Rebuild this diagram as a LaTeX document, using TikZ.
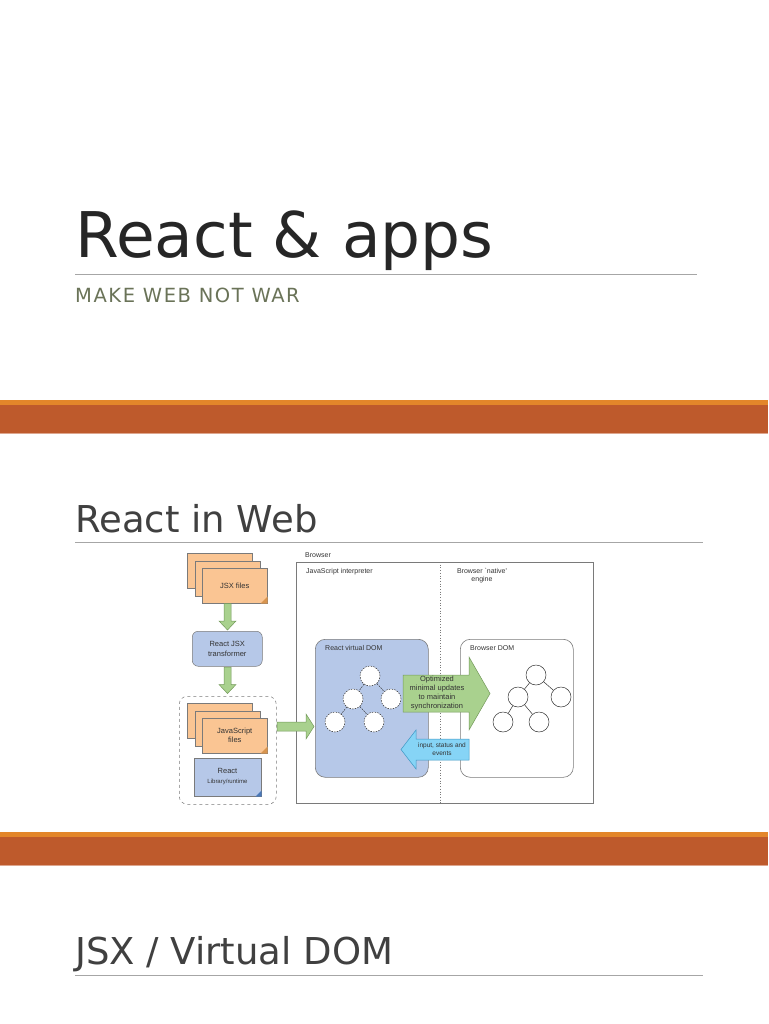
\documentclass[tikz,border=0pt]{standalone}
\usepackage{fontspec}
\setmainfont{DejaVu Sans}
\newfontfamily\dfont{Liberation Sans}
\definecolor{titlegray}{HTML}{262626}
\definecolor{headgray}{HTML}{404040}
\definecolor{subgreen}{HTML}{6A7358}
\definecolor{rulegray}{HTML}{A6A6A6}
\definecolor{bandmain}{HTML}{BE5A2C}
\definecolor{bandtop}{HTML}{E3862A}
\definecolor{bandlow}{HTML}{DDA68E}
\definecolor{fileorange}{HTML}{FAC593}
\definecolor{filedark}{HTML}{D8954F}
\definecolor{boxblue}{HTML}{B6C8E8}
\definecolor{boxbluedark}{HTML}{4A78B8}
\definecolor{arrgreen}{HTML}{A9D18E}
\definecolor{arrgreendark}{HTML}{73995A}
\definecolor{arrblue}{HTML}{86D4F6}
\definecolor{arrbluedark}{HTML}{3E97C4}
\definecolor{linegray}{HTML}{7A7A7A}
\definecolor{dtext}{HTML}{333333}
\begin{document}
\begin{tikzpicture}[x=1pt,y=-1pt,
  dlabel/.style={font=\dfont\fontsize{7}{8.5}\selectfont, text=dtext, inner sep=0pt},
  sheet/.style={draw=linegray, line width=0.5pt, fill=fileorange, minimum width=65pt, minimum height=35pt, anchor=north west, inner sep=0pt, font=\dfont\fontsize{7.5}{9}\selectfont, text=dtext, align=center},
  bluebox/.style={draw=linegray, line width=0.5pt, fill=boxblue, anchor=north west, inner sep=0pt, font=\dfont\fontsize{7.5}{9.5}\selectfont, text=dtext, align=center},
  vnode/.style={circle, draw=dtext, dash pattern=on 1.5pt off 1.2pt, line width=0.5pt, fill=white, minimum size=20pt, inner sep=0pt},
  bnode/.style={circle, draw=dtext, line width=0.5pt, fill=white, minimum size=20pt, inner sep=0pt},
  vedge/.style={draw=dtext, dash pattern=on 1.5pt off 1.2pt, line width=0.5pt},
  bedge/.style={draw=dtext, line width=0.5pt},
  garrow/.style={fill=arrgreen, draw=arrgreendark, line width=0.5pt, line join=miter},
  barrow/.style={fill=arrblue, draw=arrbluedark, line width=0.5pt, line join=miter},
  titlerule/.style={draw=rulegray, line width=1pt}
]
\useasboundingbox (0,0) rectangle (768,1024);
\fill[white] (0,0) rectangle (768,1024);

% ---------- title ----------
\node[anchor=base west, inner sep=0pt, text=titlegray, font=\fontsize{63}{63}\selectfont] (title) at (75,257) {React \& apps};
\draw[titlerule] (75,274) -- (697,274);
\node[anchor=base west, inner sep=0pt, text=subgreen, font=\fontsize{19.5}{20}\selectfont\addfontfeatures{LetterSpace=8}] (subtitle) at (75,302) {MAKE WEB NOT WAR};

% ---------- band 1 ----------
\fill[bandtop] (0,400) rectangle (768,405);
\fill[bandmain] (0,405) rectangle (768,433);
\fill[bandlow] (0,432.5) rectangle (768,433.5);

% ---------- section 2 ----------
\node[anchor=base west, inner sep=0pt, text=headgray, font=\fontsize{37}{37}\selectfont] (sec2) at (75,532) {React in Web};
\draw[titlerule] (75,542) -- (703,542);

% ---------- diagram: left column ----------
\node[sheet] (jsxa) at (187,553) {};
\node[sheet] (jsxb) at (194.5,560.5) {};
\node[sheet] (jsxc) at (202,568) {JSX files};
\fill[filedark] (jsxc.south east) -- ++(0,-7) -- ++(-7,7) -- cycle;

\node[bluebox, rounded corners=6pt, minimum width=70pt, minimum height=35pt] (trans) at (192,631) {React JSX\\transformer};

% small down arrows
\path[garrow] (224,603.5) -- (231,603.5) -- (231,621) -- (236,621) -- (227.5,630) -- (219,621) -- (224,621) -- cycle;
\path[garrow] (224,667) -- (231,667) -- (231,684.5) -- (236,684.5) -- (227.5,693.5) -- (219,684.5) -- (224,684.5) -- cycle;

\node[draw=linegray, dashed, line width=0.5pt, rounded corners=8pt, minimum width=97pt, minimum height=108pt, anchor=north west, inner sep=0pt] (pkg) at (179,696) {};
\node[sheet] (jsa) at (187,703) {};
\node[sheet] (jsb) at (194.5,710.5) {};
\node[sheet] (jsc) at (202,718) {JavaScript\\files};
\fill[filedark] (jsc.south east) -- ++(0,-7) -- ++(-7,7) -- cycle;

\node[bluebox, minimum width=67pt, minimum height=38pt] (lib) at (194,758) {};
\node[dlabel, font=\dfont\fontsize{7.5}{8}\selectfont] (libt1) at (227.5,770.5) {React};
\node[dlabel, font=\dfont\fontsize{6}{7}\selectfont] (libt2) at (227.5,782) {Library/runtime};
\fill[boxbluedark] (lib.south east) -- ++(0,-6) -- ++(-6,6) -- cycle;

% ---------- browser ----------
\node[draw=linegray, line width=0.5pt, minimum width=297pt, minimum height=241pt, anchor=north west, inner sep=0pt] (browser) at (296,562) {};
\node[dlabel, anchor=west] (brlabel) at (305,555) {Browser};
\coordinate (dotTop) at (440,562);
\coordinate (dotBot) at (440,803);
\draw[linegray, dotted, line width=0.7pt] (dotTop) -- (dotBot);
\node[dlabel, anchor=west] (jsint) at (306,572) {JavaScript interpreter};
\node[dlabel, align=center, anchor=north] (native) at (482,568) {Browser `native'\\engine};

% arrow into virtual DOM
\path[garrow] (277,722) -- (306,722) -- (306,714) -- (314,726.5) -- (306,739) -- (306,731) -- (277,731) -- cycle;

% React virtual DOM
\node[draw=linegray, line width=0.6pt, fill=boxblue, rounded corners=10pt, minimum width=113pt, minimum height=138pt, anchor=north west, inner sep=0pt] (vdom) at (315,639) {};
\node[dlabel, anchor=west] (vdoml) at (325,648) {React virtual DOM};

% Browser DOM
\node[draw=linegray, line width=0.6pt, fill=white, rounded corners=10pt, minimum width=113pt, minimum height=138pt, anchor=north west, inner sep=0pt] (bdom) at (460,639) {};
\node[dlabel, anchor=west] (bdoml) at (470,648) {Browser DOM};

% virtual DOM tree
\node[vnode] (v1) at (370,676) {};
\node[vnode] (v2) at (353,699) {};
\node[vnode] (v3) at (391,699) {};
\node[vnode] (v4) at (335,722) {};
\node[vnode] (v5) at (374,722) {};
\draw[vedge] (v1) -- (v2);
\draw[vedge] (v1) -- (v3);
\draw[vedge] (v2) -- (v4);
\draw[vedge] (v2) -- (v5);

% browser DOM tree
\node[bnode] (b1) at (536,675) {};
\node[bnode] (b2) at (518,697) {};
\node[bnode] (b3) at (561,697) {};
\node[bnode] (b4) at (503,722) {};
\node[bnode] (b5) at (539,722) {};
\draw[bedge] (b1) -- (b2);
\draw[bedge] (b1) -- (b3);
\draw[bedge] (b2) -- (b4);
\draw[bedge] (b2) -- (b5);

% big green arrow
\path[garrow] (403,675) -- (469,675) -- (469,657) -- (490,693.5) -- (469,730) -- (469,712) -- (403,712) -- cycle;
\node[dlabel, align=center, font=\dfont\fontsize{7.5}{9}\selectfont] (opt) at (437,693.5) {Optimized\\minimal updates\\to maintain\\synchronization};

% blue arrow
\path[barrow] (469,739) -- (416,739) -- (416,730) -- (401,749.5) -- (416,769) -- (416,760) -- (469,760) -- cycle;
\node[dlabel, align=center, font=\dfont\fontsize{6.5}{8}\selectfont] (inp) at (442,749.5) {input, status and\\events};

% ---------- band 2 ----------
\fill[bandtop] (0,832) rectangle (768,837);
\fill[bandmain] (0,837) rectangle (768,865);
\fill[bandlow] (0,864.5) rectangle (768,865.5);

% ---------- section 3 ----------
\node[anchor=base west, inner sep=0pt, text=headgray, font=\fontsize{37}{37}\selectfont] (sec3) at (75,964) {JSX / Virtual DOM};
\draw[titlerule] (75,975) -- (703,975);
\end{tikzpicture}
\end{document}
